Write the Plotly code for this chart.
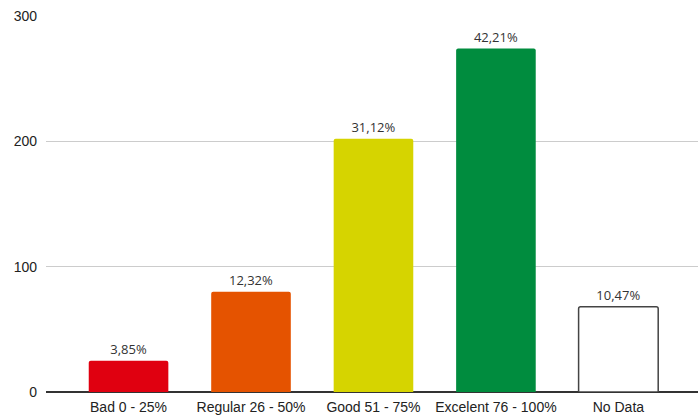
import plotly.graph_objects as go

categories = ["Bad 0 - 25%", "Regular 26 - 50%", "Good 51 - 75%", "Excelent 76 - 100%", "No Data"]
counts = [25, 80, 202, 274, 68]
percent_labels = ["3,85%", "12,32%", "31,12%", "42,21%", "10,47%"]
bar_colors = ["#e00010", "#e55300", "#d6d400", "#008c3e", "#ffffff"]
line_colors = ["#e00010", "#e55300", "#d6d400", "#008c3e", "#444444"]
line_widths = [0, 0, 0, 0, 1.5]
y_ticks = [0, 100, 200, 300]

fig = go.Figure(go.Bar(
    x=list(range(len(categories))),
    y=counts,
    text=percent_labels,
    textposition="outside",
    textfont=dict(family="Open Sans", size=13, color="#333333"),
    cliponaxis=False,
    marker=dict(color=bar_colors, line=dict(color=line_colors, width=line_widths), cornerradius=2),
    width=0.65,
))

fig.update_layout(
    width=698, height=418,
    margin=dict(l=46, r=0, t=16, b=26),
    plot_bgcolor="white", paper_bgcolor="white",
    showlegend=False,
    xaxis=dict(
        tickmode="array", tickvals=list(range(len(categories))), ticktext=categories,
        range=[-0.674, 4.65], showgrid=False, showline=False, zeroline=False,
        tickfont=dict(family="Liberation Sans", size=14, color="#222222"),
        ticks="", ticklabelstandoff=5,
    ),
    yaxis=dict(
        range=[0, 300], tickvals=y_ticks, showgrid=True, gridcolor="#cccccc", gridwidth=1,
        zeroline=True, zerolinecolor="#333333", zerolinewidth=1.5, showline=False,
        tickfont=dict(family="Liberation Sans", size=14, color="#222222"),
        ticks="", ticklabelstandoff=8,
    ),
)

fig.write_html("out.html")
